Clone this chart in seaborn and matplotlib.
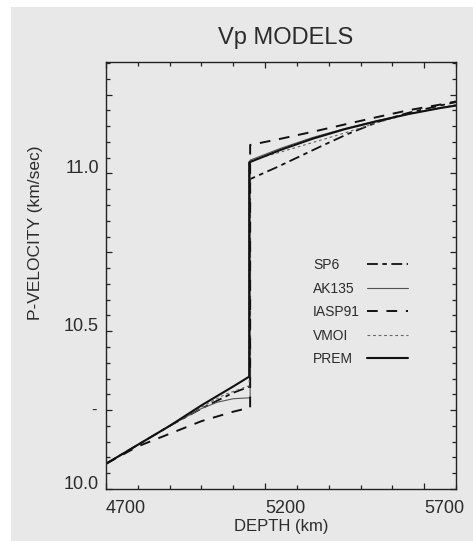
import numpy as np
import pandas as pd
import seaborn as sns
import matplotlib
matplotlib.use("Agg")
import matplotlib.pyplot as plt
from matplotlib.lines import Line2D
from matplotlib.patches import Rectangle
from matplotlib.ticker import MultipleLocator, FixedLocator

# Velocity models near the inner-core boundary (depth in km, Vp in km/s)
models = ["SP6", "AK135", "IASP91", "VMOI", "PREM"]

prem_depth = [4700, 4800, 4900, 5000, 5100, 5150, 5150, 5250, 5350, 5450, 5550, 5650, 5750, 5800]
prem_vp    = [10.08, 10.14, 10.20, 10.265, 10.325, 10.356, 11.035, 11.075, 11.110, 11.140, 11.165, 11.188, 11.207, 11.215]

ak135_depth = [4700, 4800, 4900, 5000, 5050, 5100, 5153, 5153, 5250, 5350, 5450, 5550, 5650, 5750, 5800]
ak135_vp    = [10.08, 10.14, 10.20, 10.255, 10.275, 10.286, 10.289, 11.042, 11.080, 11.114, 11.142, 11.167, 11.188, 11.207, 11.215]

iasp91_depth = [4700, 4800, 4900, 5000, 5100, 5153, 5153, 5250, 5350, 5450, 5550, 5650, 5750, 5800]
iasp91_vp    = [10.08, 10.135, 10.175, 10.215, 10.245, 10.258, 11.090, 11.110, 11.132, 11.155, 11.178, 11.200, 11.218, 11.228]

vmoi_depth = [4700, 4800, 4900, 5000, 5075, 5150, 5150, 5250, 5350, 5450, 5550, 5650, 5750, 5800]
vmoi_vp    = [10.08, 10.14, 10.20, 10.26, 10.30, 10.327, 11.040, 11.068, 11.098, 11.128, 11.160, 11.188, 11.208, 11.218]

sp6_depth = [4700, 4800, 4900, 5000, 5100, 5153, 5153, 5240, 5380, 5460, 5560, 5650, 5750, 5800]
sp6_vp    = [10.08, 10.14, 10.20, 10.255, 10.305, 10.325, 10.982, 11.021, 11.088, 11.125, 11.165, 11.192, 11.215, 11.226]

series = {
    "SP6": (sp6_depth, sp6_vp),
    "AK135": (ak135_depth, ak135_vp),
    "IASP91": (iasp91_depth, iasp91_vp),
    "VMOI": (vmoi_depth, vmoi_vp),
    "PREM": (prem_depth, prem_vp),
}

styles = {
    "SP6":    dict(color="#111111", lw=1.3, linestyle=(0, (6, 2.5, 2.5, 2.5))),
    "AK135":  dict(color="#555555", lw=0.8, linestyle="-"),
    "IASP91": dict(color="#111111", lw=1.4, linestyle=(0, (5.5, 4.5))),
    "VMOI":   dict(color="#666666", lw=0.8, linestyle=(0, (2.5, 2.5))),
    "PREM":   dict(color="#111111", lw=1.5, linestyle="-"),
}

sns.set_theme(style="ticks")
plt.rcParams["font.family"] = ["Liberation Sans", "DejaVu Sans"]
text_color = "#2b2b2b"

fig = plt.figure(figsize=(4.77, 5.41), dpi=100, facecolor="white")
fig.patches.append(Rectangle((11 / 477, 0), 462 / 477, 534 / 541,
                             transform=fig.transFigure, facecolor="#e8e8e8",
                             edgecolor="none", zorder=-10))
ax = fig.add_axes([106 / 477, 1 - 489 / 541, 350 / 477, 427 / 541])
ax.set_facecolor("none")

for name in models:
    d, v = series[name]
    df = pd.DataFrame({"depth": d, "vp": v})
    sns.lineplot(data=df, x="depth", y="vp", ax=ax, estimator=None, sort=False,
                 **styles[name])

ax.set_xlim(4700, 5800)
ax.set_ylim(10.0, 11.353)

# ticks: inward on all four sides
ax.xaxis.set_major_locator(FixedLocator([4700, 5200, 5700]))
ax.xaxis.set_minor_locator(MultipleLocator(100))
ax.yaxis.set_major_locator(MultipleLocator(0.25))
ax.yaxis.set_minor_locator(MultipleLocator(0.05))
ax.tick_params(which="both", direction="in", top=True, right=True,
               color="#222222", width=0.9, labelcolor=text_color, labelsize=13)
ax.tick_params(which="major", length=4.5)
ax.tick_params(which="minor", length=2.6)
ax.tick_params(axis="x", which="major", pad=8)
ax.tick_params(axis="y", which="major", pad=5)

ax.set_xticks([4700, 5200, 5700])
ax.set_xticklabels(["4700", "5200", "5700"], ha="left")
yt = [10.0, 10.25, 10.5, 10.75, 11.0, 11.25]
ax.set_yticks(yt)
ax.set_yticklabels(["10.0", "", "10.5", "", "11.0", ""], va="baseline")
ax.text(-0.026, 10.25, "-", transform=ax.get_yaxis_transform(), ha="right",
        va="center", fontsize=12, color=text_color)

for s in ax.spines.values():
    s.set_color("#222222")
    s.set_linewidth(1.0)

ax.set_xlabel("DEPTH (km)", fontsize=12, color=text_color, labelpad=1)
ax.set_ylabel("P-VELOCITY (km/sec)", fontsize=12.5, color=text_color)
ax.yaxis.set_label_coords(-0.18, 0.60)
fig.text(286 / 477, 1 - 38 / 541, "Vp MODELS", ha="center", va="center",
         fontsize=17, color=text_color)

# legend: labels in the first column, line samples in the second
handles = [Line2D([], [], alpha=0) for _ in models] + list(ax.get_lines())
labels = models + [""] * len(models)
ax.legend(handles, labels, ncols=2, loc="upper left",
          bbox_to_anchor=((268 - 106) / 350, (489 - 258) / 427),
          frameon=False, borderpad=0, borderaxespad=0, handlelength=2.95,
          handletextpad=0.3, columnspacing=0.5, labelspacing=0.69,
          prop={"size": 10}, labelcolor=text_color)

fig.savefig("out.png", dpi=100, facecolor=fig.get_facecolor())
